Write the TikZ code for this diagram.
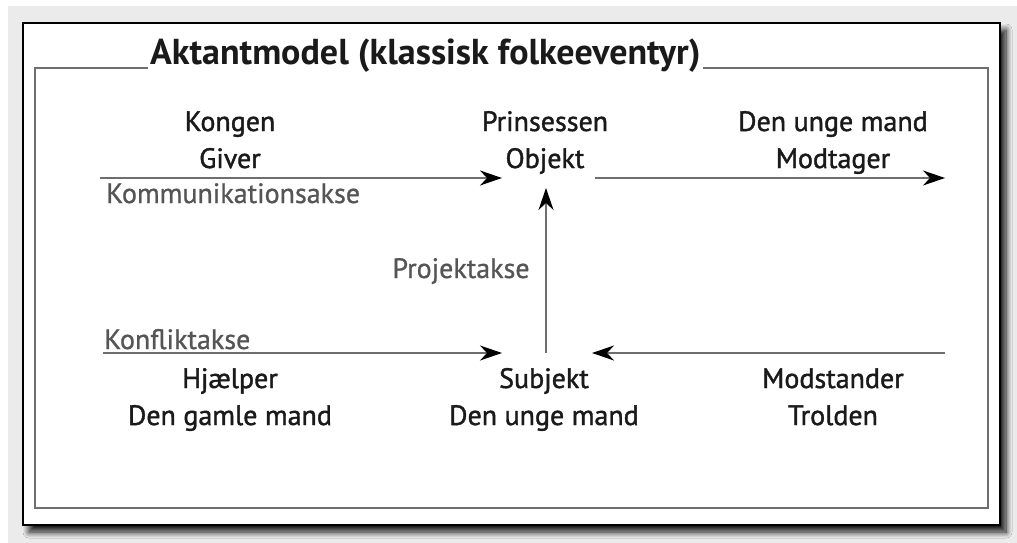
\documentclass[tikz,border=0pt]{standalone}
\usepackage{fontspec}
\setmainfont{PT Sans}
\newfontfamily\medfont[FakeBold=1.4]{PT Sans}
\newfontfamily\axfont[FakeBold=0.9]{PT Sans}
\usetikzlibrary{arrows.meta,shadows.blur}
\definecolor{bggray}{HTML}{EBEBEB}
\definecolor{linegray}{HTML}{6E6E6E}
\definecolor{axisgray}{HTML}{555555}
\definecolor{txt}{HTML}{1A1A1A}
\tikzset{
  actant/.style={align=center,text=txt,inner sep=0pt,
    font=\medfont\fontsize{28}{37}\selectfont},
  axislabel/.style={text=axisgray,inner sep=0pt,font=\axfont\fontsize{28}{30}\selectfont},
  axis/.style={draw=linegray,line width=1.5pt,
    -{Stealth[length=22pt,width=15pt,inset=7pt,color=black]}},
}
\begin{document}
\begin{tikzpicture}[x=1pt,y=-1pt]
\useasboundingbox (0,0) rectangle (1017,543);
\fill[white] (0,0) rectangle (1017,543);
\fill[bggray] (8,6) rectangle (1017,543);
% card
\draw[black,line width=2pt,fill=white,
  blur shadow={shadow xshift=6pt,shadow yshift=-7pt,shadow blur radius=6pt,shadow opacity=90,shadow blur steps=12}]
  (23,23) rectangle (1000,525);
% inner frame
\draw[linegray,line width=1.5pt] (35,68) rectangle (988,508);
\node[fill=white,inner xsep=2pt,inner ysep=0pt,anchor=base west,text=txt,
  font=\bfseries\fontsize{36}{40}\selectfont] (title) at (148,65) {Aktantmodel (klassisk folkeeventyr)};
% actants
\node[actant,anchor=base] (giver) at (230,168) {Kongen\\Giver};
\node[actant,anchor=base] (objekt) at (545,168) {Prinsessen\\Objekt};
\node[actant,anchor=base] (modtager) at (833,168) {Den unge mand\\Modtager};
\node[actant,anchor=base] (hjaelper) at (230,425) {Hjælper\\Den gamle mand};
\node[actant,anchor=base] (subjekt) at (544,425) {Subjekt\\Den unge mand};
\node[actant,anchor=base] (modstander) at (833,425) {Modstander\\Trolden};
% axis labels
\node[axislabel,anchor=base west] (komm) at (106,203) {Kommunikationsakse};
\node[axislabel,anchor=base] (proj) at (461,278) {Projektakse};
\node[axislabel,anchor=base west] (konf) at (104,349) {Konfliktakse};
% connector ends
\coordinate (k1) at (100,178);
\coordinate (k2) at (502,178);
\coordinate (k3) at (595,178);
\coordinate (k4) at (945,178);
\coordinate (p1) at (546,353);
\coordinate (p2) at (546,188);
\coordinate (f1) at (103,353);
\coordinate (f2) at (502,353);
\coordinate (f3) at (945,353);
\coordinate (f4) at (592,353);
\draw[axis] (k1) -- (k2);
\draw[axis] (k3) -- (k4);
\draw[axis] (p1) -- (p2);
\draw[axis] (f1) -- (f2);
\draw[axis] (f3) -- (f4);
\end{tikzpicture}
\end{document}
